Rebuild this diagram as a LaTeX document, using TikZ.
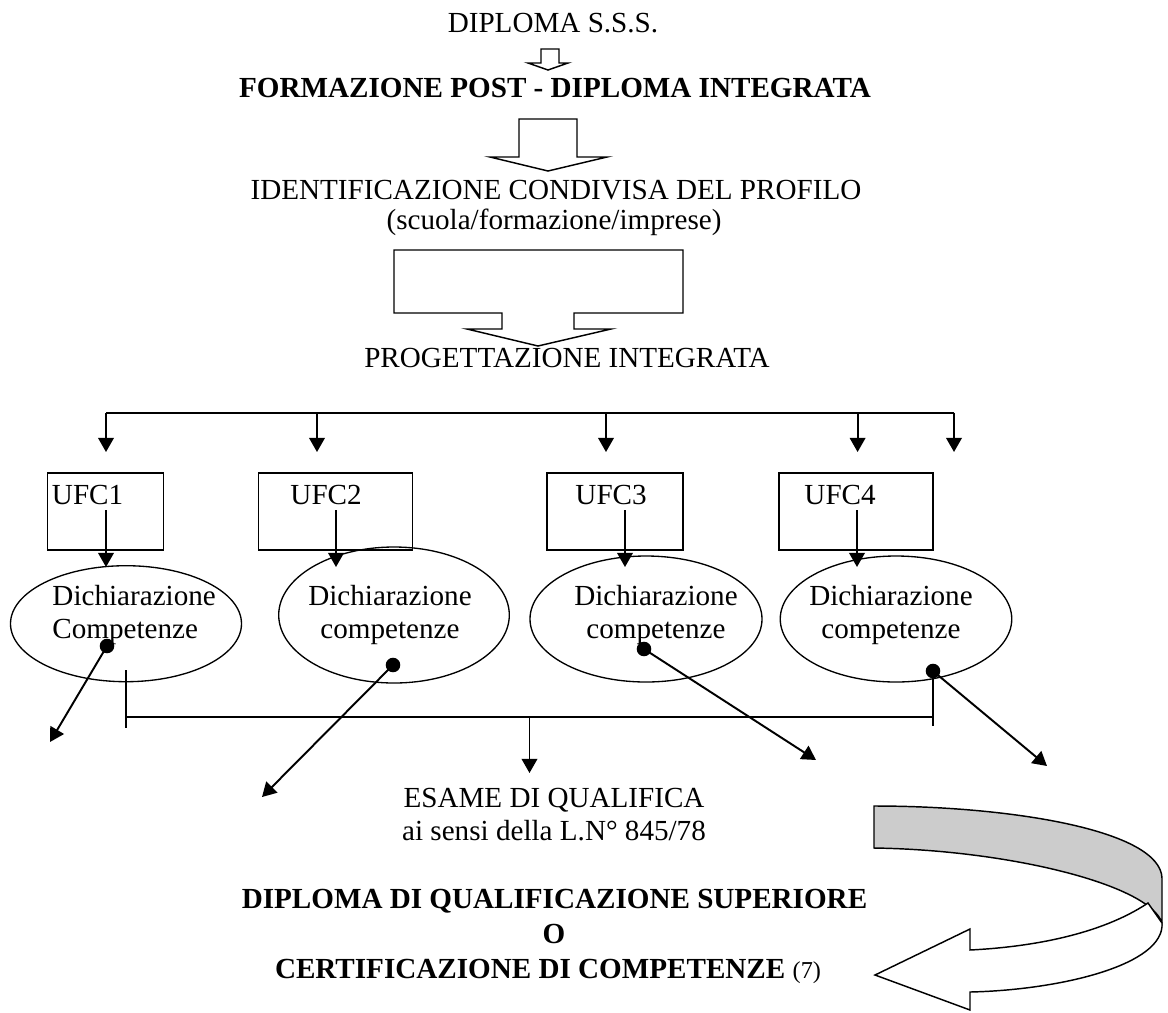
\documentclass[tikz,border=0pt]{standalone}
\usepackage{fontspec}
\setmainfont{Liberation Serif}
\usetikzlibrary{arrows.meta, shapes.geometric}

\begin{document}
\begin{tikzpicture}[x=0.412pt, y=-0.412pt,
    every node/.style={inner sep=0pt, font=\fontsize{12}{13.6}\selectfont},
    bold/.style={font=\fontsize{12}{13.6}\selectfont\bfseries},
    hollow/.style={draw, line width=0.6pt, fill=white},
    ufcbox/.style={draw, line width=0.55pt, minimum height=77*0.412pt},
    dich/.style={draw, ellipse, line width=0.55pt},
    arr/.style={line width=0.8pt, -{Triangle[length=5.8pt, width=6.4pt]}},
    bracket/.style={line width=0.55pt}]
    \useasboundingbox (0,0) rectangle (1168,1012);

    % top: titles and hollow arrows
    \node[anchor=base] (sss) at (553,32) {DIPLOMA S.S.S.};
    \draw[hollow] (541,49) -- (559,49) -- (559,63) -- (568,63) -- (548,70)
        -- (528,63) -- (541,63) -- cycle;
    \node[bold, anchor=base] (post) at (555,97) {FORMAZIONE POST - DIPLOMA INTEGRATA};
    \draw[hollow] (519,119) -- (577,119) -- (577,157) -- (607,157) -- (548,171)
        -- (490,157) -- (519,157) -- cycle;
    \node[anchor=base] (profilo) at (556,199) {IDENTIFICAZIONE CONDIVISA DEL PROFILO};
    \node[anchor=base] (soggetti) at (554,229) {(scuola/formazione/imprese)};
    \draw[hollow] (394,250) -- (683,250) -- (683,313) -- (574,313) -- (574,329)
        -- (611,329) -- (538,346) -- (467,329) -- (502,329) -- (502,313)
        -- (394,313) -- cycle;
    \node[anchor=base] (prog) at (567,367) {PROGETTAZIONE INTEGRATA};

    % bus with drops
    \coordinate (busl) at (106,412.7);
    \coordinate (busr) at (954,412.7);
    \draw[line width=0.8pt] (busl) -- (busr);
    \foreach \x in {106,317,606,857.6,954}
        \draw[arr] (\x,412.7) -- (\x,452);

    % UFC boxes
    \foreach \n/\cx/\w/\tx/\ax in {1/105.5/115.7/51.5/106, 2/335.5/153.4/290/336,
                                   3/615/136/575/625, 4/856/154/804/857} {
        \node[ufcbox, minimum width=\w*0.412pt] (ufc\n) at (\cx,511.4) {};
        \node[anchor=base west] (lab\n) at (\tx,504) {UFC\n};
        \draw[arr] (\ax,510) -- (\ax,567);
    }

    % competence ellipses
    \foreach \n/\cx/\cy/\w/\h in {1/126/623.7/231/116, 2/394/615/230.6/136,
                                  3/646/619/232/126, 4/896/619/231.5/126}
        \node[dich, minimum width=\w*0.412pt, minimum height=\h*0.412pt] (ell\n) at (\cx,\cy) {};
    \node[anchor=north west, align=left] (dtxt1) at (52,585) {Dichiarazione\\Competenze};
    \foreach \n/\x in {2/390, 3/656, 4/891}
        \node[anchor=north, align=center] (dtxt\n) at (\x,585) {Dichiarazione\\competenze};

    % dots with arrows
    \foreach \n/\sx/\sy/\ex/\ey in {1/107/646/50/742, 2/393/665/262/797,
                                    3/644/649/816/760, 4/933/671/1047/766} {
        \coordinate (dot\n) at (\sx,\sy);
        \coordinate (tip\n) at (\ex,\ey);
        \fill (dot\n) circle[radius=3pt];
        \draw[arr] (dot\n) -- (tip\n);
    }

    % bracket to exam
    \coordinate (brl) at (126,717);
    \coordinate (brr) at (933,717);
    \coordinate (brm) at (529.5,717);
    \draw[bracket] (126,670) -- (126,728);
    \draw[bracket] (933,671) -- (933,726);
    \draw[bracket] (brl) -- (brr);
    \draw[arr] (brm) -- ++(0,56);

    \node[anchor=base] (esame) at (554,807.5) {ESAME DI QUALIFICA};
    \node[anchor=base] (legge) at (554,840.5) {ai sensi della L.N° 845/78};

    \node[bold, anchor=base] (dqs) at (554.5,908) {DIPLOMA DI QUALIFICAZIONE SUPERIORE};
    \node[bold, anchor=base] (oppure) at (554,943) {O};
    \node[bold, anchor=base] (cdc) at (548,978)
        {CERTIFICAZIONE DI COMPETENZE {\normalfont\fontsize{10}{12}\selectfont (7)}};

    % curved ribbon arrow
    \draw[line width=0.6pt, fill=black!20] (874,806) .. controls (1010,806) and (1160,830) .. (1162,878)
        -- (1162,923) .. controls (1150,885) and (1010,850) .. (874,848) -- cycle;
    \draw[hollow] (1148,903) .. controls (1100,935) and (1030,947) .. (970,950)
        -- (970,929) -- (875,975) -- (970,1010) -- (970,992)
        .. controls (1060,990) and (1165,965) .. (1162,923) -- cycle;
\end{tikzpicture}
\end{document}
